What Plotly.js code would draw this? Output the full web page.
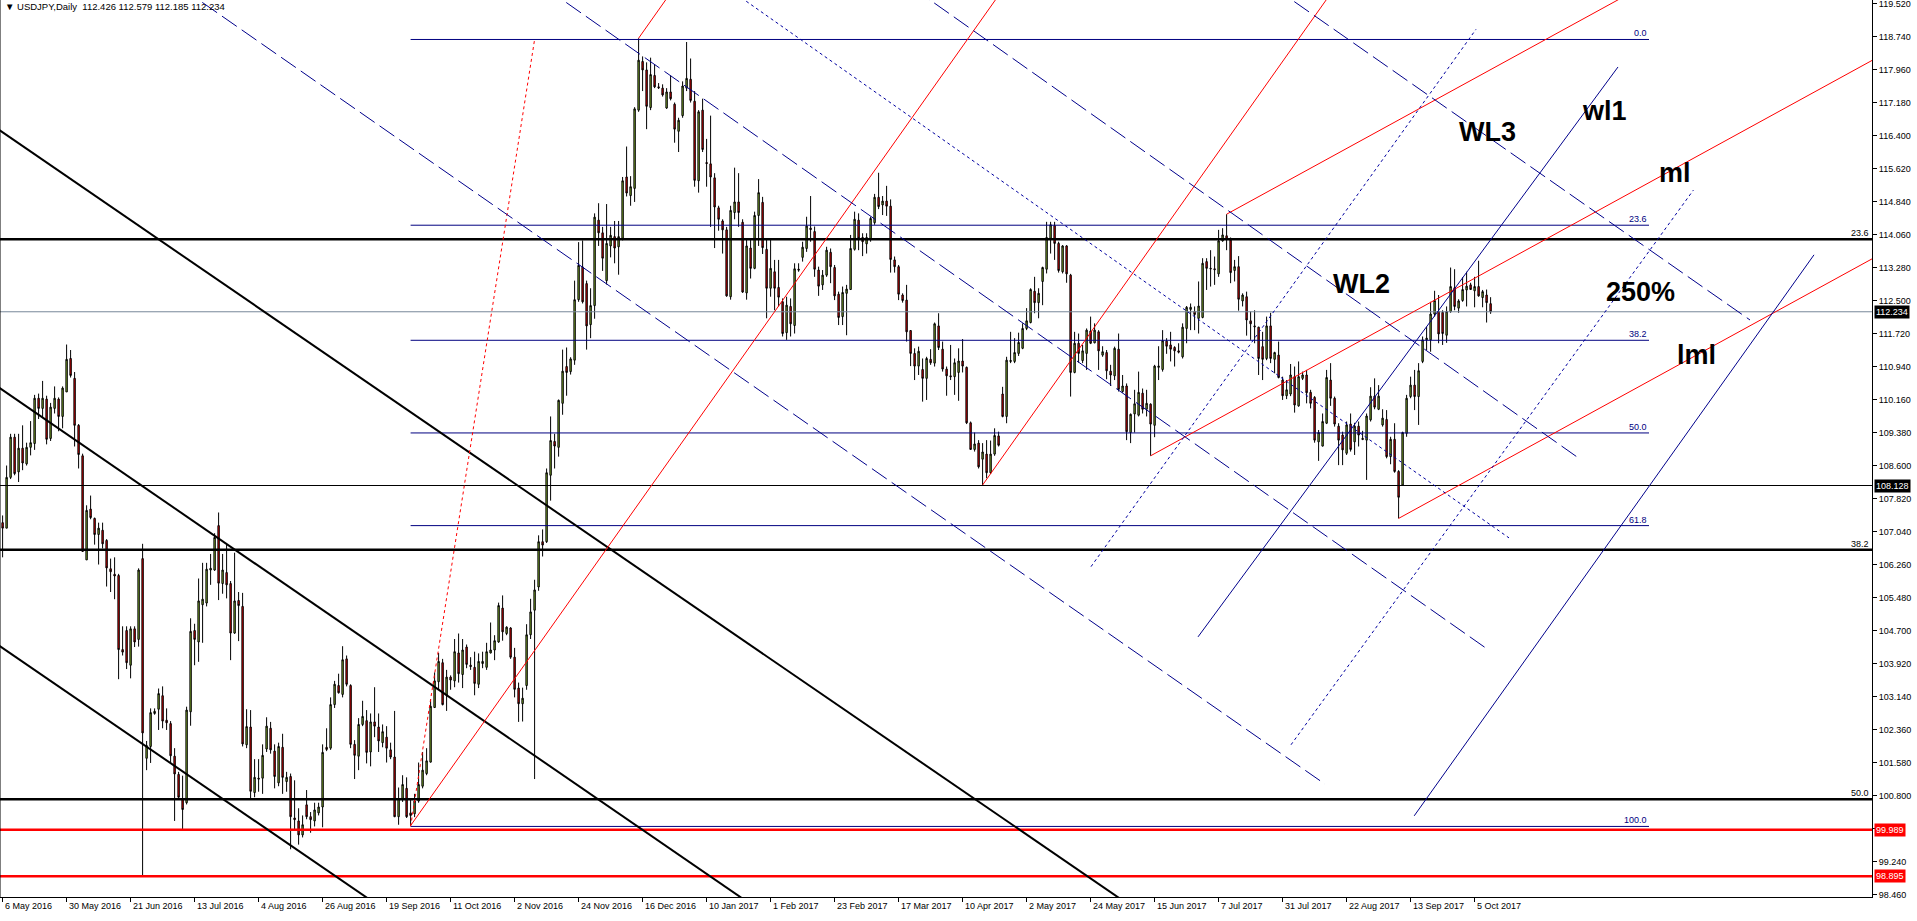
<!DOCTYPE html>
<html><head><meta charset="utf-8">
<script src="https://cdn.plot.ly/plotly-3.0.1.min.js"></script>
<style>html,body{margin:0;padding:0;background:#fff;overflow:hidden}#chart{width:1917px;height:921px}</style>
</head><body><div id="chart"></div>
<script>
// ---- Daily USDJPY candles, 6 May 2016 .. 12 Oct 2017 (bar index 0..372) ----
const open = [
107.25,107.12,108.32,109.27,108.45,109.01,108.64,109.03,109.12,110.19,
109.95,110.17,109.24,109.95,110.17,109.76,110.34,111.13,110.66,109.55,
108.83,106.37,107.57,107.35,106.97,107.07,106.83,106.16,106.03,106.00,
104.25,104.70,103.88,104.74,104.49,106.40,101.68,101.96,102.74,102.84,
103.16,102.58,102.50,101.73,101.30,100.71,100.63,102.78,104.70,104.43,
105.31,105.35,106.13,106.13,107.18,105.81,106.07,105.81,104.64,105.41,
105.27,102.00,102.42,100.87,101.21,101.21,101.90,102.39,101.85,101.10,
101.94,101.13,101.25,100.27,100.20,99.87,100.58,100.30,100.20,100.39,
100.53,101.94,101.92,102.95,103.40,103.19,104.03,103.40,102.01,101.73,
102.48,102.57,101.83,102.54,102.42,102.05,102.18,101.88,101.71,100.30,
100.73,100.97,100.39,100.37,100.67,101.02,101.32,101.59,102.88,103.49,
103.94,103.17,103.60,103.51,104.17,103.66,104.31,103.88,103.83,103.43,
103.92,103.83,104.17,104.24,104.43,105.23,104.63,104.76,104.07,103.34,
102.97,103.40,104.60,105.18,105.73,106.80,106.80,108.37,109.17,109.03,
110.07,110.94,110.82,111.09,112.52,113.29,112.90,111.93,112.38,114.40,
114.10,112.97,113.79,114.01,113.77,113.97,115.42,114.98,115.15,117.00,
118.15,117.95,117.06,117.82,117.55,117.52,117.05,117.43,117.14,116.50,
116.87,117.52,117.73,117.21,115.33,117.00,115.76,115.73,115.40,114.69,
114.38,114.17,112.59,114.58,114.83,114.35,112.68,113.74,113.26,114.51,
114.82,113.71,112.79,113.18,112.81,112.47,111.74,112.36,111.91,113.24,
113.52,113.73,114.21,114.13,113.22,112.87,113.10,113.64,113.28,112.65,
112.12,112.67,112.76,113.71,114.40,113.99,113.84,113.95,114.34,114.94,
114.76,114.85,114.73,113.46,113.30,112.63,112.51,111.79,111.25,110.95,
110.87,110.66,111.11,111.02,111.90,111.35,110.88,110.72,110.70,110.80,
111.07,110.92,109.61,108.98,109.13,108.75,108.87,108.43,108.87,109.30,
110.29,109.76,111.06,111.06,111.25,111.37,111.84,111.98,112.72,112.45,
112.95,113.24,113.97,114.27,113.85,113.18,113.79,113.10,110.80,111.49,
111.08,111.25,111.78,111.50,111.76,111.21,111.27,110.83,110.72,111.35,
110.35,110.48,109.38,109.82,109.79,110.31,109.93,110.05,109.55,110.92,
110.87,111.54,111.45,111.39,111.31,111.17,111.84,112.29,112.24,112.08,
112.10,113.42,113.26,113.25,113.13,113.91,114.03,113.93,113.21,113.30,
112.49,112.59,112.02,111.90,111.87,111.41,111.13,111.90,111.11,111.21,
110.62,110.25,110.29,110.70,110.01,110.66,110.74,110.33,110.21,109.16,
109.06,109.60,110.62,110.19,109.53,109.32,108.89,109.58,109.16,109.53,
109.24,109.20,109.68,110.24,109.93,109.56,109.69,108.81,109.22,108.46,
108.14,109.36,110.23,110.50,110.23,111.06,111.57,111.57,112.18,112.24,
112.22,111.68,112.24,112.80,112.32,112.50,112.75,112.87,112.73,112.83,
112.57,112.63,112.426];
const high = [
107.42,108.60,109.35,109.35,109.35,109.55,109.14,109.65,110.27,110.30,
110.60,110.25,110.08,110.47,110.21,110.47,111.46,111.33,110.81,109.58,
108.88,107.66,107.89,107.37,107.25,107.25,106.86,106.40,106.43,106.04,
104.80,104.80,104.80,104.80,106.17,106.75,102.09,102.86,102.86,103.33,
103.38,102.86,102.56,101.92,101.36,101.27,102.90,104.99,104.86,105.93,
106.30,106.30,106.51,107.00,107.49,106.51,106.73,105.87,106.54,105.61,
105.59,102.84,102.82,101.66,101.66,102.01,102.65,102.54,102.01,102.05,
102.26,101.36,101.32,101.16,100.50,100.33,100.93,100.41,100.63,100.63,
102.01,102.39,103.12,103.51,103.68,104.33,104.11,103.43,102.11,102.63,
103.04,102.82,102.74,103.36,102.74,102.48,102.44,102.05,102.80,100.99,
101.28,101.23,100.72,100.84,101.58,101.83,101.92,103.08,103.71,104.17,
104.03,103.77,103.64,104.50,104.63,104.50,104.37,104.07,104.20,104.16,
104.20,104.41,104.89,104.59,105.36,105.53,104.80,104.78,104.29,103.47,
103.35,104.85,105.45,105.90,106.95,107.09,108.53,109.76,109.35,110.16,
111.34,111.39,111.16,112.97,113.88,113.92,112.97,112.79,114.56,114.80,
114.24,114.78,114.24,114.38,114.38,115.42,116.14,115.44,117.07,118.70,
118.27,118.13,118.24,118.09,117.64,117.61,117.52,117.82,117.18,116.82,
117.68,118.61,118.22,117.45,117.00,117.27,116.32,116.87,115.51,114.74,
114.42,114.24,114.74,115.64,115.51,114.42,113.97,113.97,114.60,115.37,
114.95,113.97,113.97,113.46,113.46,112.55,112.59,112.55,113.38,113.38,
113.89,114.48,114.97,114.25,113.30,113.22,113.77,113.73,113.34,112.71,
112.83,112.87,114.05,114.60,114.56,114.09,114.09,114.48,115.02,115.52,
114.97,115.21,114.89,113.54,113.34,112.67,112.87,111.80,111.37,111.41,
111.13,111.17,111.35,111.98,112.20,111.53,110.94,111.45,111.13,111.37,
111.59,110.94,109.64,109.38,109.20,109.13,109.20,109.19,109.48,109.40,
110.46,111.17,111.76,111.61,111.74,111.96,112.32,112.79,113.06,112.79,
113.30,114.36,114.36,114.36,113.89,113.81,113.81,113.13,111.76,111.72,
111.45,111.84,112.12,111.96,111.80,111.42,111.33,110.98,111.41,111.72,
110.74,110.54,109.83,110.39,110.82,110.42,110.39,110.07,110.98,111.42,
111.80,111.61,111.76,111.42,111.49,111.96,112.37,112.43,112.36,112.95,
113.50,113.50,113.69,113.54,114.17,114.21,114.54,113.99,113.46,113.55,
112.67,112.71,112.24,112.27,111.88,111.76,112.12,112.21,111.29,111.53,
110.70,110.62,111.00,110.94,111.06,110.82,110.86,110.39,110.24,109.44,
109.83,110.86,111.02,110.23,109.60,109.40,109.64,109.83,109.61,109.64,
109.42,109.83,110.45,110.66,110.50,109.93,109.91,109.28,109.60,108.49,
109.40,110.27,110.70,110.86,111.02,111.65,111.88,112.47,112.73,112.63,
112.27,112.36,113.28,113.24,112.53,113.05,113.18,112.92,113.06,113.44,
112.75,112.76,112.579];
const low = [
106.43,107.12,108.28,108.37,108.21,108.49,108.60,108.84,108.97,109.70,
109.74,109.10,109.18,109.83,109.41,109.48,110.34,110.68,109.05,108.53,
106.56,106.37,107.33,106.73,106.26,106.64,105.74,105.61,105.44,103.55,
104.11,103.79,103.57,104.31,104.32,98.91,101.40,101.57,102.71,102.35,
102.39,102.35,101.57,100.20,100.71,100.01,100.59,102.45,103.88,103.96,
104.41,105.27,105.78,106.11,105.42,105.57,105.46,104.00,104.62,104.45,
101.96,101.92,100.71,100.76,100.89,100.84,101.83,101.79,100.97,101.02,
100.84,100.89,99.53,99.99,99.64,99.81,100.24,99.92,100.07,100.33,
100.05,101.85,101.88,102.87,103.21,103.12,103.38,101.92,101.19,101.40,
102.44,101.56,101.49,102.18,101.83,101.94,101.58,101.66,100.29,100.11,
100.65,100.27,100.09,100.29,100.63,100.97,101.28,101.58,102.87,103.30,
102.93,102.80,103.30,103.36,103.47,103.34,103.81,103.77,103.17,103.34,
103.81,103.77,104.16,104.00,104.41,104.46,104.59,104.03,103.12,102.54,
102.55,103.30,104.50,101.19,105.64,106.45,106.77,107.77,108.53,108.81,
109.80,110.25,110.75,110.98,112.47,112.43,111.34,111.61,112.07,113.79,
113.20,112.88,113.52,113.38,113.11,113.92,114.96,114.74,114.83,116.96,
117.45,116.55,117.00,117.52,117.50,117.32,117.03,117.23,116.23,116.01,
116.82,117.45,117.18,115.19,115.05,116.01,115.19,114.24,113.74,114.15,
113.61,112.59,112.52,114.42,114.24,112.68,112.52,113.02,113.24,113.79,
113.60,112.08,112.59,112.27,112.36,111.65,111.57,111.65,111.72,113.18,
113.42,113.65,113.89,113.06,112.61,112.75,113.06,112.91,112.51,111.92,
111.92,111.68,112.75,113.68,113.69,113.55,113.61,113.89,114.29,114.66,
114.52,114.50,113.16,113.16,112.51,112.45,111.53,110.95,110.62,110.74,
110.11,110.15,110.98,110.94,111.33,110.82,110.25,110.62,110.27,110.13,
110.80,109.58,108.97,108.93,108.53,108.14,108.30,108.40,108.83,109.05,
109.74,109.60,111.02,111.02,111.19,111.35,111.80,111.96,112.20,112.08,
112.39,113.14,113.61,113.46,113.16,113.14,112.92,110.23,110.78,111.03,
111.02,110.86,111.47,111.49,110.86,111.17,110.64,110.48,110.62,110.35,
110.32,109.20,109.13,109.38,109.76,109.83,109.76,108.83,109.27,110.62,
110.82,111.24,111.06,110.94,111.25,111.13,111.49,111.80,111.80,111.72,
112.08,112.75,112.83,112.87,113.06,113.89,113.69,112.91,112.95,112.26,
112.36,111.67,111.57,111.49,110.74,110.62,111.09,111.02,110.78,110.66,
110.15,110.17,110.24,109.85,109.99,110.62,110.07,109.95,109.14,108.71,
109.05,109.58,110.01,109.52,108.61,108.61,108.85,108.93,108.85,109.05,
109.20,108.26,109.64,109.93,109.91,109.52,108.77,108.63,108.43,107.35,
108.12,109.28,110.19,109.91,109.56,111.02,111.33,111.29,112.12,111.49,
111.45,111.50,112.21,112.27,112.21,112.47,112.36,112.75,112.34,112.59,
112.34,111.98,112.185];
const close = [
107.12,108.32,109.27,108.41,109.01,108.66,109.03,109.14,110.19,109.95,
110.19,109.22,109.98,110.19,109.76,110.43,111.11,110.73,109.55,108.86,
106.57,107.54,107.37,106.97,107.12,106.75,106.18,106.09,105.99,104.25,
104.19,103.94,104.74,104.43,106.13,102.28,101.98,102.76,102.79,103.21,
102.56,102.52,101.74,101.31,100.76,100.47,102.82,104.68,104.49,105.40,
105.44,106.15,106.17,106.90,105.82,106.13,105.78,104.64,105.40,105.29,
102.02,102.43,100.90,101.23,101.19,101.75,102.44,101.88,101.25,101.96,
101.23,101.23,100.30,100.23,99.87,100.11,100.30,100.23,100.46,100.53,
101.82,101.89,102.95,103.43,103.23,104.01,103.43,102.01,101.75,102.48,
102.67,101.82,102.54,102.44,102.09,102.31,101.92,101.71,100.30,100.73,
101.06,100.30,100.33,100.67,101.06,101.40,101.62,102.91,103.51,103.97,
102.95,103.60,103.53,104.20,103.68,104.24,103.90,103.85,103.45,103.97,
103.97,104.20,104.24,104.46,105.29,104.67,104.78,104.07,103.31,102.97,
103.10,104.60,105.14,105.66,106.80,106.72,108.43,109.19,109.06,110.14,
110.83,110.80,111.12,112.52,113.33,112.47,111.90,112.38,114.47,114.10,
113.50,113.85,114.04,113.74,114.01,115.33,115.04,115.19,117.03,118.18,
117.95,117.09,117.84,117.55,117.53,117.36,117.43,117.27,116.55,116.76,
117.57,117.75,117.23,115.34,116.96,116.07,115.74,115.42,114.71,114.42,
114.17,112.61,114.63,114.83,114.58,112.70,113.79,113.26,114.51,115.05,
113.75,112.79,113.26,112.79,112.58,111.72,112.39,111.95,113.25,113.22,
113.76,114.26,114.18,113.24,112.84,113.10,113.69,113.30,112.61,112.10,
112.69,112.77,113.73,114.42,113.97,113.89,113.99,114.44,114.94,114.72,
114.85,114.73,113.47,113.30,112.65,112.50,111.76,111.25,110.95,111.30,
110.66,111.13,111.03,111.95,111.39,110.88,110.72,110.70,111.03,111.07,
110.95,109.61,108.98,109.11,108.57,108.92,108.43,108.87,109.31,109.08,
109.76,111.09,111.08,111.27,111.51,111.84,112.02,112.76,112.45,112.67,
113.28,113.99,114.29,113.85,113.21,113.79,113.13,110.80,111.49,111.25,
111.31,111.80,111.49,111.80,111.31,111.29,110.84,110.74,111.37,110.40,
110.48,109.40,109.81,110.06,110.33,109.93,110.07,109.58,110.95,110.95,
111.55,111.42,111.35,111.31,111.28,111.87,112.34,112.34,112.17,112.37,
113.38,113.26,113.25,113.23,113.91,114.05,113.95,113.16,113.30,112.53,
112.63,112.04,111.95,111.88,111.13,111.11,111.90,111.13,111.27,110.68,
110.25,110.39,110.74,110.03,110.70,110.74,110.32,110.07,109.20,109.38,
109.64,110.68,110.19,109.58,109.20,108.97,109.56,108.98,109.53,109.32,
109.22,109.77,110.24,109.98,110.24,109.72,108.81,109.22,108.46,107.85,
109.38,110.19,110.50,110.23,110.84,111.57,111.61,112.18,112.50,111.71,
111.72,112.24,112.83,112.36,112.49,112.76,112.84,112.76,112.83,112.61,
112.71,112.45,112.234];

// ---- Axis ticks ----
const dateTickBars = [0,16,32,48,64,80,96,112,128,144,160,176,192,208,224,240,256,272,288,304,320,336,352,368];
const dateTickLabels = ['6 May 2016','30 May 2016','21 Jun 2016','13 Jul 2016','4 Aug 2016','26 Aug 2016','19 Sep 2016','11 Oct 2016','2 Nov 2016','24 Nov 2016','16 Dec 2016','10 Jan 2017','1 Feb 2017','23 Feb 2017','17 Mar 2017','10 Apr 2017','2 May 2017','24 May 2017','15 Jun 2017','7 Jul 2017','31 Jul 2017','22 Aug 2017','13 Sep 2017','5 Oct 2017'];
const priceTicks = [98.46,99.24,100.02,100.80,101.58,102.36,103.14,103.92,104.70,105.48,106.26,107.04,107.82,108.60,109.38,110.16,110.94,111.72,112.50,113.28,114.06,114.84,115.62,116.40,117.18,117.96,118.74,119.52];
// 100.020 sits under the 99.989 price tag in the reference, so its text is not shown
const priceTickLabels = ['98.460','99.240','','100.800','101.580','102.360','103.140','103.920','104.700','105.480','106.260','107.040','107.820','108.600','109.380','110.160','110.940','111.720','112.500','113.280','114.060','114.840','115.620','116.400','117.180','117.960','118.740','119.520'];

// ---- Horizontal levels ----
const blackFibLevels = [113.95,106.61,100.71];
const blackFibLabels = ['23.6','38.2','50.0'];
const navyFibLevels = [118.67,114.28,111.56,109.37,107.18,100.07];
const navyFibLabels = ['0.0','23.6','38.2','50.0','61.8','100.0'];
const navyFibBars = [102,411.6];
const fibTrend = [102,100.07,133,118.67];
const supportLevel = 108.128;
const bidPrice = 112.234;
const redLevels = [99.989,98.895];

// ---- Trend lines: [bar0, price0, bar1, price1] ----
const blackChannel = [[-5,116.80,330,95.08],[-5,110.71,230,95.44],[-5,104.61,135,95.54]];
const redSteep = [[102,100.09,260,121.18],[159,118.70,175,120.84],[245,108.14,340,120.82]];
const redPitchfork = [[306,114.54,480,123.55],[287,108.83,480,118.83],[349,107.35,480,114.14]];
const blueSolid = [[298.85,104.55,403.85,118.02],[352.9,100.32,452.85,113.58]];
const blueDotUp = [[272.1,106.21,368.35,118.91],[322.1,102.00,422.7,115.11]];
const blueDash = [[45,119.87,330.6,101.07],[136,119.87,370.6,104.30],[228,119.86,393.5,108.81],[318,119.89,436.85,112.04]];
const blueDotDown = [[181,119.90,376.6,106.89]];

// ---- Text labels: [text, bar, price] ----
const chartLabels = [['WL2',339.6,112.88],['WL3',371.1,116.48],['wl1',400.35,116.97],['ml',418.1,115.52],['250%',409.35,112.69],['lml',423.35,111.21]];

const bars = open.map((_, i) => i);
const FONT = 'Liberation Sans, Arial, sans-serif';
const traces = [{
  type:'candlestick', x:bars, open:open, high:high, low:low, close:close,
  increasing:{line:{color:'#000000',width:1}, fillcolor:'#9acd32'},
  decreasing:{line:{color:'#000000',width:1}, fillcolor:'#ff0000'},
  whiskerwidth:0, hoverinfo:'skip', showlegend:false
}];
function seg(s, color, width, dash){
  traces.push({type:'scatter', mode:'lines', x:[s[0],s[2]], y:[s[1],s[3]],
    line:{color:color, width:width, dash:dash||'solid'}, hoverinfo:'skip', showlegend:false});
}
const X0 = -5, X1 = 480;
blackFibLevels.forEach(p => seg([X0,p,X1,p],'#000000',2.5));
seg([X0,supportLevel,X1,supportLevel],'#000000',1);
seg([X0,bidPrice,X1,bidPrice],'#778899',1);
navyFibLevels.forEach(p => seg([navyFibBars[0],p,navyFibBars[1],p],'#000080',1));
redLevels.forEach(p => seg([X0,p,X1,p],'#ff0000',2.5));
blackChannel.forEach(s => seg(s,'#000000',2));
seg(fibTrend,'#ff0000',1,'3px,3px');
redSteep.forEach(s => seg(s,'#ff0000',1));
redPitchfork.forEach(s => seg(s,'#ff0000',1));
blueSolid.forEach(s => seg(s,'#00008b',1));
blueDotUp.forEach(s => seg(s,'#0000a0',1,'3px,3px'));
blueDotDown.forEach(s => seg(s,'#0000a0',1,'3px,3px'));
blueDash.forEach(s => seg(s,'#00008b',1,'18px,6px'));

const ann = [];
ann.push({xref:'paper',yref:'paper',x:0,y:1,xanchor:'left',yanchor:'top',xshift:3,yshift:1,showarrow:false,
  text:'▼ USDJPY,Daily  112.426 112.579 112.185 112.234',font:{family:FONT,size:9.5,color:'#000'}});
dateTickBars.forEach((b,k) => ann.push({xref:'x',yref:'paper',x:b,y:0,xanchor:'left',yanchor:'top',xshift:0,yshift:-2,
  showarrow:false,text:dateTickLabels[k],font:{family:FONT,size:9,color:'#000'}}));
blackFibLevels.forEach((p,k) => ann.push({xref:'paper',yref:'y',x:1,y:p,xanchor:'right',yanchor:'bottom',xshift:-1,yshift:-1,
  showarrow:false,text:blackFibLabels[k],font:{family:FONT,size:9,color:'#000'}}));
navyFibLevels.forEach((p,k) => ann.push({xref:'x',yref:'y',x:navyFibBars[1],y:p,xanchor:'right',yanchor:'bottom',yshift:-1,
  showarrow:false,text:navyFibLabels[k],font:{family:FONT,size:9,color:'#000080'}}));
[[bidPrice,'#000000'],[supportLevel,'#000000'],[redLevels[0],'#ff0000'],[redLevels[1],'#ff0000']].forEach(a =>
  ann.push({xref:'paper',yref:'y',x:1,y:a[0],xanchor:'left',yanchor:'middle',xshift:2,showarrow:false,
    text:a[0].toFixed(3),bgcolor:a[1],borderpad:1,font:{family:FONT,size:9,color:'#ffffff'}}));
chartLabels.forEach(t => ann.push({xref:'x',yref:'y',x:t[1],y:t[2],xanchor:'center',yanchor:'middle',showarrow:false,
  text:'<b>'+t[0]+'</b>',font:{family:FONT,size:27,color:'#000000'}}));

const layout = {
  width:1917, height:921, margin:{l:0,r:45,t:0,b:24,pad:0},
  paper_bgcolor:'#ffffff', plot_bgcolor:'#ffffff', showlegend:false, hovermode:false, boxgap:0.5,
  xaxis:{range:[-0.65,467.35], showgrid:false, zeroline:false, showline:true, linecolor:'#000', linewidth:1,
    ticks:'outside', ticklen:4, tickcolor:'#000', tickvals:dateTickBars, showticklabels:false,
    rangeslider:{visible:false}, fixedrange:true, automargin:false},
  yaxis:{range:[98.402,119.603], side:'right', showgrid:false, zeroline:false, showline:true, linecolor:'#000', linewidth:1,
    ticks:'outside', ticklen:4, tickcolor:'#000', tickvals:priceTicks, ticktext:priceTickLabels,
    ticklabeloverflow:'allow', tickfont:{family:FONT,size:9,color:'#000'}, fixedrange:true, automargin:false},
  shapes:[{type:'line',xref:'paper',yref:'paper',x0:0,x1:0,y0:0,y1:1,line:{color:'#000',width:1}}],
  annotations:ann
};
Plotly.newPlot('chart', traces, layout, {staticPlot:true, displayModeBar:false});
</script></body></html>
